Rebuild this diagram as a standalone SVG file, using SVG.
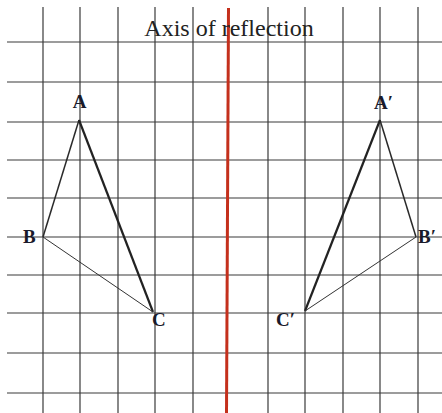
<svg xmlns="http://www.w3.org/2000/svg" width="442" height="413" viewBox="0 0 442 413">
<style>
.grid line{stroke:#3a3a3a;stroke-width:1.2}
.lbl{font-family:"Liberation Serif","Times New Roman",serif;font-size:19px;fill:#1a1a2a;font-weight:bold}
.title{font-family:"Liberation Serif","Times New Roman",serif;font-size:24px;fill:#222}
.thick{stroke:#222;stroke-width:2.2;fill:none}
.mid{stroke:#2a2a2a;stroke-width:1.5;fill:none}
.thin{stroke:#333;stroke-width:1;fill:none}
</style>
<rect width="442" height="413" fill="#ffffff"/>
<g class="grid" id="grid">
<line x1="7" y1="42" x2="442" y2="42"/>
<line x1="7" y1="82" x2="442" y2="82"/>
<line x1="7" y1="122" x2="442" y2="122"/>
<line x1="7" y1="160" x2="442" y2="160"/>
<line x1="7" y1="198" x2="442" y2="198"/>
<line x1="7" y1="237" x2="442" y2="237"/>
<line x1="7" y1="275" x2="442" y2="275"/>
<line x1="7" y1="313" x2="442" y2="313"/>
<line x1="7" y1="353" x2="442" y2="353"/>
<line x1="7" y1="393" x2="442" y2="393"/>
<line x1="43" y1="7" x2="43" y2="413"/>
<line x1="80" y1="7" x2="80" y2="413"/>
<line x1="118" y1="7" x2="118" y2="413"/>
<line x1="155" y1="7" x2="155" y2="413"/>
<line x1="193" y1="7" x2="193" y2="413"/>
<line x1="268" y1="7" x2="268" y2="413"/>
<line x1="305" y1="7" x2="305" y2="413"/>
<line x1="343" y1="7" x2="343" y2="413"/>
<line x1="380" y1="7" x2="380" y2="413"/>
<line x1="418" y1="7" x2="418" y2="413"/>
</g>
<g id="axis">
<line x1="228.5" y1="8" x2="226.5" y2="413" stroke="#c4301c" stroke-width="3"/>
<text class="title" x="229" y="36" text-anchor="middle">Axis of reflection</text>
</g>
<g id="connectors">
<line class="mid" x1="79" y1="120" x2="43" y2="237"/>
<line class="thick" x1="79" y1="120" x2="153" y2="312"/>
<line class="thin" x1="43" y1="237" x2="153" y2="312"/>
<line class="mid" x1="380" y1="120" x2="416" y2="237"/>
<line class="thick" x1="380" y1="120" x2="305" y2="311"/>
<line class="thin" x1="416" y1="237" x2="305" y2="311"/>
</g>
<g id="A"><text class="lbl" x="79.5" y="108" text-anchor="middle">A</text></g>
<g id="B"><text class="lbl" x="23" y="243">B</text></g>
<g id="C"><text class="lbl" x="152" y="326" font-size="20">C</text></g>
<g id="A1"><text class="lbl" x="374" y="109">A′</text></g>
<g id="B1"><text class="lbl" x="418" y="243">B′</text></g>
<g id="C1"><text class="lbl" x="276" y="326" font-size="20">C′</text></g>
</svg>
